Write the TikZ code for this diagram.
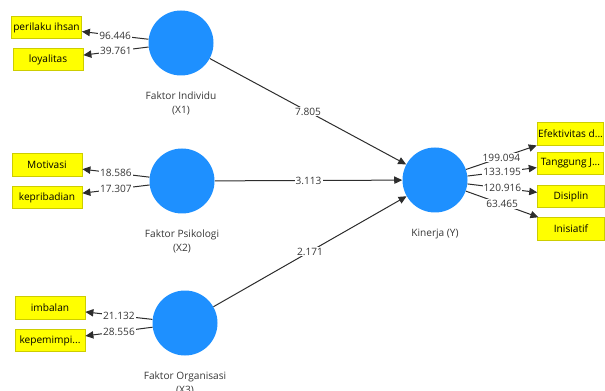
\documentclass[tikz,border=0pt]{standalone}
\usepackage{fontspec}
\setmainfont{Open Sans}
\usetikzlibrary{arrows.meta,positioning}
\definecolor{lvblue}{RGB}{30,144,255}
\definecolor{indyellow}{RGB}{255,255,0}
\definecolor{indborder}{RGB}{205,205,0}
\definecolor{linkgray}{RGB}{45,45,45}
\definecolor{labelgray}{RGB}{55,55,55}

\begin{document}
\begin{tikzpicture}[x=0.75pt, y=-0.75pt,
    latent/.style={circle, fill=lvblue, minimum size=48.75pt, inner sep=0pt},
    indicator/.style={draw=indborder, fill=indyellow, line width=0.6pt, inner sep=0pt,
        minimum width=52.5pt, minimum height=17pt, font=\fontsize{7.6}{9}\selectfont},
    rindicator/.style={indicator, minimum width=50pt},
    lvname/.style={below=8.5pt of #1, align=center, text=labelgray,
        font=\fontsize{7.6}{10.5}\selectfont},
    link/.style={draw=linkgray, line width=0.75pt, -{Triangle[length=6pt, width=5.5pt]}},
    weight/.style={fill=white, inner sep=0.8pt, text=labelgray, font=\fontsize{7.6}{9}\selectfont}]
    \useasboundingbox (0,0) rectangle (605,391);

    % Latent variables
    \node[latent] (x1) at (181,43) {};
    \node[latent] (x2) at (182,181) {};
    \node[latent] (x3) at (185,323) {};
    \node[latent] (y) at (435,180) {};
    \node[lvname=x1] (x1name) {Faktor Individu\\(X1)};
    \node[lvname=x2] (x2name) {Faktor Psikologi\\(X2)};
    \node[lvname=x3] (x3name) {Faktor Organisasi\\(X3)};
    \node[lvname=y] (yname) {Kinerja (Y)};

    % Indicators (left)
    \node[indicator] (ihsan) at (46.5,27.5) {perilaku ihsan};
    \node[indicator] (loyal) at (48,59.5) {loyalitas};
    \node[indicator] (motiv) at (47,165) {Motivasi};
    \node[indicator] (pribadi) at (47,197.5) {kepribadian};
    \node[indicator] (imbal) at (50,308) {imbalan};
    \node[indicator] (pimpin) at (50,340.5) {kepemimpi...};

    % Indicators (right)
    \node[rindicator] (efek) at (570.5,134) {Efektivitas d...};
    \node[rindicator] (tanggung) at (570.5,163.5) {Tanggung J...};
    \node[rindicator] (disiplin) at (571,196.5) {Disiplin};
    \node[rindicator] (inisiatif) at (571,229) {Inisiatif};

    % Outer loadings
    \draw[link] (x1) -- node[weight] {96.446} (ihsan);
    \draw[link] (x1) -- node[weight] {39.761} (loyal);
    \draw[link] (x2) -- node[weight] {18.586} (motiv);
    \draw[link] (x2) -- node[weight] {17.307} (pribadi);
    \draw[link] (x3) -- node[weight] {21.132} (imbal);
    \draw[link] (x3) -- node[weight] {28.556} (pimpin);
    \draw[link] (y) -- node[weight] {199.094} (efek);
    \draw[link] (y) -- node[weight] {133.195} (tanggung);
    \draw[link] (y) -- node[weight] {120.916} (disiplin);
    \draw[link] (y) -- node[weight] {63.465} (inisiatif);

    % Inner model
    \draw[link] (x1) -- node[weight] {7.805} (y);
    \draw[link] (x2) -- node[weight] {3.113} (y);
    \draw[link] (x3) -- node[weight] {2.171} (y);
\end{tikzpicture}
\end{document}
